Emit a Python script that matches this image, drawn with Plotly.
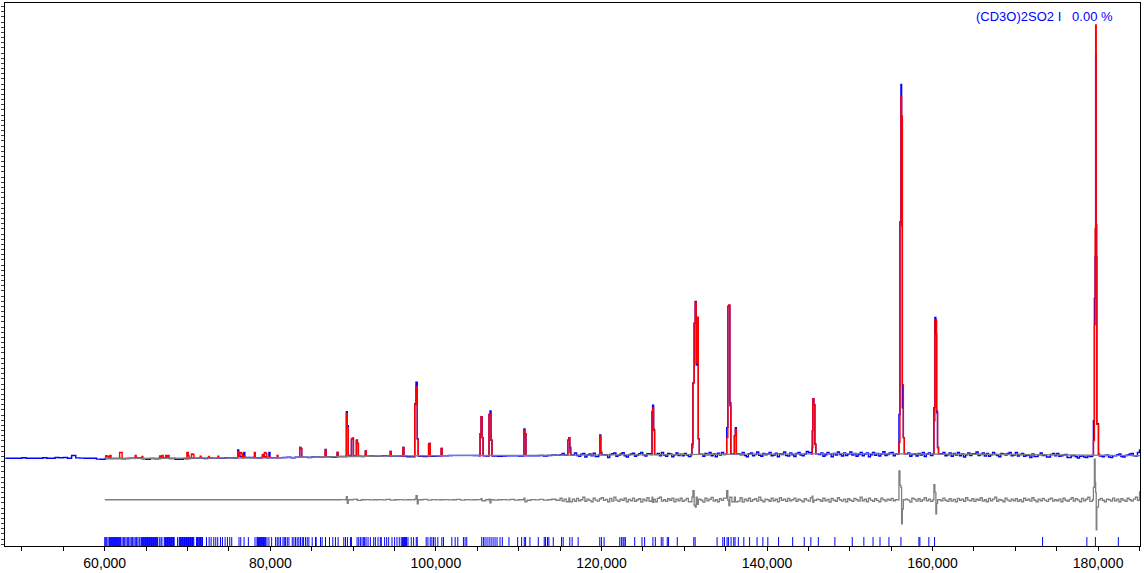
import numpy as np
import plotly.graph_objects as go

# ---------------- data (counts, arbitrary units) ----------------
# observed pattern: baseline sampled every 500 up to 114500, every 250 from 115000
obs_grid_x = list(range(48000, 114501, 500)) + list(range(115000, 185001, 250))
obs_grid_y = [
    92, 92, 92, 92, 97, 92, 92, 92, 92, 97, 92, 92, 100, 97, 100, 92, 120, 96, 94, 92, 92, 92, 84, 82, 90,
    90, 92, 90, 88, 90, 92, 95, 90, 84, 82, 90, 88, 92, 95, 90, 84, 82, 82, 90, 92,
    94, 95, 92, 90, 96, 94, 88, 95, 97, 96, 95, 98, 100, 92, 100, 98, 95, 100, 98, 97,
    92, 100, 100, 102, 96, 103, 104, 105, 100, 106, 106, 104, 108, 108, 102, 110, 110, 108, 110, 112,
    112, 110, 112, 115, 112, 114, 118, 116, 112, 114, 115, 112, 107, 106, 112, 110, 110, 112, 112, 115,
    120, 120, 120, 121, 121, 121, 121, 121, 120, 118, 118, 115, 116, 115, 113,
    115, 118, 118, 118, 115, 118, 112, 118, 118, 120, 115, 120, 125, 122,
    # 115000 .. 184750, step 250
    128, 140, 122, 135, 110, 125, 138, 145, 120, 112, 132, 140, 105, 125, 135, 118, 142, 110, 128, 150,
    140, 118, 125, 100, 130, 138, 145, 112, 122, 135, 148, 118, 105, 128, 135, 142, 112, 125, 138, 150,
    128, 115, 138, 145, 120, 110, 132, 140, 118, 150, 125, 112, 140, 135, 108, 128, 145, 120, 132, 118,
    140, 125, 110, 138, 150, 122, 118, 145, 130, 112, 140, 128, 150, 118, 135, 108, 142, 125, 150, 130,
    125, 140, 118, 135, 130, 145, 112, 128, 150, 120, 108, 138, 145, 118, 130, 155, 122, 112, 140, 128,
    135, 150, 118, 125, 142, 108, 138, 130, 155, 120, 115, 145, 128, 110, 140, 150, 125, 118, 135, 160,
    150, 120, 135, 140, 118, 130, 145, 112, 128, 150, 138, 108, 140, 125, 155, 130, 115, 145, 120, 135,
    155, 125, 140, 112, 130, 150, 118, 135, 145, 108, 128, 150, 122, 140, 115, 135, 158, 120, 130, 145,
    150, 118, 135, 105, 140, 128, 150, 120, 145, 112, 130, 138, 115, 140, 125, 150, 110, 135, 145, 120,
    138, 125, 140, 110, 135, 150, 118, 128, 145, 112, 140, 125, 150, 118, 135, 105, 128, 145, 120, 138,
    138, 155, 120, 130, 145, 115, 140, 112, 128, 150, 130, 120, 108, 140, 135, 125, 140, 150, 118, 125,
    150, 115, 130, 140, 112, 120, 125, 100, 135, 110, 110, 128, 145, 120, 125, 105, 105, 130, 140, 118,
    140, 112, 118, 125, 130, 100, 100, 118, 120, 108, 95, 112, 115, 105, 100, 118, 110, 95, 119, 120,
    118, 112, 108, 120, 125, 105, 100, 118, 118, 128, 135, 110, 105, 120, 125, 135, 140, 118, 115, 150,
    183,
]

# peak regions: x, observed, calculated
peak_x = [
    60050, 60120, 60250, 60360, 60480, 60640, 60760,
    61700, 61800, 61990, 62100,
    63550, 63670, 63800,
    64400, 64490, 64600,
    66500, 66630, 66800, 66930, 67050,
    67250, 67350, 67500, 67650, 67780,
    69800, 69920, 70090, 70200,
    70380, 70480, 70660, 70780,
    71420, 71530, 71640,
    72420, 72530, 72640,
    73560, 73670, 73780,
    75940, 76060, 76180, 76320, 76500, 76620, 76800, 76920,
    77950, 78070, 78190,
    78900, 79030, 79150, 79280, 79460, 79580, 79840, 79960,
    80700, 80820, 80940,
    83430, 83550, 83670, 83790,
    86500, 86630, 86750,
    87950, 88070, 88190,
    89070, 89190, 89300, 89420, 89680, 89800, 89920, 90040, 90280, 90400, 90520, 90640,
    91360, 91480, 91600,
    94370, 94490, 94610,
    95900, 96020, 96140,
    97330, 97450, 97600, 97750, 97870,
    99000, 99120, 99200, 99320,
    100520, 100640, 100760,
    105220, 105340, 105460, 105580, 105700,
    106300, 106420, 106540, 106660, 106780,
    110520, 110640, 110760, 110880,
    115820, 115940, 116060, 116180, 116300,
    119680, 119800, 119920, 120040,
    125990, 126110, 126180, 126300, 126420,
    130810, 130930, 131050, 131200, 131330, 131450, 131570, 131700, 131820,
    135010, 135130, 135270, 135390, 135510, 135630,
    135940, 136060, 136180, 136300,
    145340, 145460, 145540, 145660, 145780, 145900,
    155820, 155940, 156060, 156180, 156260, 156350, 156470, 156590,
    160040, 160160, 160280, 160400, 160490, 160600, 160720,
    179310, 179430, 179550, 179640, 179700, 179770, 179840, 180040, 180160,
]
peak_obs = [
    90, 90, 90, 90, 90, 90, 90,
    90, 90, 90, 88,
    93, 93, 95,
    90, 90, 88,
    90, 90, 92, 92, 95,
    93, 93, 93, 92, 90,
    86, 86, 90, 90,
    92, 92, 92, 94,
    92, 92, 92,
    92, 95, 95,
    92, 92, 92,
    97, 175, 120, 110, 100, 100, 150, 100,
    98, 100, 98,
    100, 100, 100, 110, 100, 98, 150, 98,
    96, 96, 96,
    104, 200, 190, 104,
    108, 180, 108,
    108, 150, 110,
    110, 560, 420, 120, 112, 283, 293, 115, 112, 273, 240, 112,
    112, 167, 112,
    114, 160, 114,
    113, 200, 113,
    108, 640, 857, 290, 112,
    112, 233, 240, 112,
    118, 190, 118,
    118, 340, 510, 300, 118,
    115, 533, 567, 273, 115,
    118, 387, 340, 118,
    125, 273, 300, 200, 125,
    127, 327, 150, 127,
    130, 560, 627, 383, 130,
    130, 235, 850, 1450, 1670, 1030, 1500, 290, 133,
    133, 400, 1620, 1630, 650, 135,
    135, 320, 400, 135,
    136, 370, 690, 630, 233, 136,
    138, 533, 2470, 3850, 3500, 600, 300, 138,
    138, 600, 1507, 1340, 550, 200, 137,
    120, 470, 1700, 2120, 4150, 2117, 440, 133, 115,
]
peak_calc = [
    90, 117, 110, 112, 92, 120, 92,
    92, 150, 150, 90,
    94, 120, 95,
    92, 110, 90,
    92, 115, 100, 120, 95,
    95, 120, 105, 120, 92,
    92, 150, 115, 92,
    94, 135, 130, 95,
    94, 112, 94,
    95, 110, 96,
    96, 112, 96,
    97, 160, 115, 150, 140, 98, 115, 98,
    100, 150, 100,
    100, 130, 110, 150, 140, 100, 110, 98,
    98, 120, 98,
    104, 200, 190, 104,
    108, 178, 108,
    108, 150, 110,
    110, 543, 400, 118, 112, 283, 293, 115, 112, 273, 240, 112,
    112, 167, 112,
    114, 160, 114,
    113, 200, 113,
    110, 633, 810, 283, 112,
    112, 233, 240, 112,
    118, 190, 118,
    118, 340, 510, 300, 118,
    115, 533, 540, 273, 115,
    118, 370, 340, 118,
    125, 273, 300, 150, 125,
    127, 317, 150, 127,
    130, 560, 600, 370, 130,
    130, 200, 850, 1450, 1660, 1050, 1510, 285, 133,
    133, 300, 1615, 1635, 620, 135,
    135, 320, 383, 135,
    136, 200, 690, 633, 233, 136,
    138, 250, 2433, 3733, 3533, 833, 300, 138,
    138, 470, 1483, 1483, 570, 200, 137,
    120, 270, 1433, 2400, 4450, 2441, 433, 133, 115,
]

# background curve
bg_x = [60000, 70000, 80000, 90000, 95000, 110000, 130000, 150000, 170000, 180000, 185058]
bg_y = [90, 93, 97, 110, 117, 122, 133, 138, 130, 118, 118]

# difference curve (offset): every 500 from 88000, every 250 from 115000, + spikes
diff_start = (60000, -325)
diff_grid_x = list(range(88000, 114501, 500)) + list(range(115000, 185001, 250))
diff_grid_y = [
    -325, -324, -326, -325, -322, -328, -325, -323, -327, -325, -324, -326, -322, -328, -325,
    -323, -327, -325, -324, -326, -325, -322, -328, -324, -326, -325, -323, -327, -325, -322,
    -328, -324, -326, -325, -323, -327, -325, -321, -329, -325, -324, -326, -322, -328, -325,
    -320, -330, -324, -326, -321, -329, -325, -320, -330,
    # 115000 .. 184750, step 250
    -310, -338, -320, -345, -305, -330, -318, -340, -312, -335, -325, -300, -340, -318, -332, -345, -310, -328, -338, -315,
    -305, -332, -322, -345, -312, -338, -300, -328, -342, -318, -330, -310, -345, -322, -335, -308, -340, -325, -315, -348,
    -320, -335, -305, -340, -318, -330, -345, -312, -300, -338, -325, -342, -315, -330, -308, -345, -320, -335, -310, -340,
    -328, -312, -345, -318, -335, -305, -340, -322, -330, -348, -310, -335, -320, -302, -338, -325, -345, -315, -332, -308,
    -340, -318, -330, -345, -312, -325, -338, -305, -348, -320, -335, -310, -342, -325, -315, -338, -300, -330, -345, -318,
    -325, -340, -310, -335, -320, -345, -305, -330, -318, -342, -312, -336, -325, -308, -340, -320, -332, -345, -315, -328,
    -338, -305, -330, -345, -318, -325, -340, -310, -335, -322, -348, -312, -330, -340, -305, -325, -338, -318, -345, -315,
    -330, -342, -312, -325, -338, -300, -335, -320, -345, -310, -328, -340, -315, -332, -345, -308, -325, -338, -318, -330,
    -312, -335, -325, -345, -305, -330, -340, -318, -328, -348, -310, -322, -338, -315, -342, -325, -305, -335, -320, -340,
    -325, -310, -345, -320, -335, -308, -330, -342, -315, -338, -322, -345, -312, -330, -318, -340, -305, -328, -335, -315,
    -342, -320, -330, -305, -338, -325, -345, -312, -335, -318, -300, -340, -322, -330, -345, -310, -328, -338, -318, -335,
    -315, -340, -325, -345, -310, -332, -320, -338, -305, -330, -345, -318, -335, -312, -328, -342, -320, -308, -338, -325,
    -335, -318, -345, -310, -330, -340, -322, -305, -338, -315, -328, -345, -312, -335, -320, -300, -342, -325, -330, -315,
    -340, -312, -330, -345, -318, -325, -338, -308, -335, -320, -345, -315, -330, -340, -310, -325, -338, -318, -300, -330,
    -240,
]
diff_spike_x = [
    89070, 89190, 89300, 89420, 90400, 90520,
    97330, 97450, 97600, 97750, 97870,
    105460, 105580, 106420, 106540, 106660, 110640, 110760,
    116060, 116180, 126110, 126180, 126300,
    130930, 131050, 131200, 131330, 131450, 131570, 131700,
    135130, 135270, 135390, 135510, 136060, 136180,
    145460, 145540, 145660,
    155820, 155940, 156060, 156180, 156260, 156350, 156470,
    160040, 160160, 160280, 160400, 160490, 160600,
    179310, 179430, 179550, 179640, 179700, 179770, 179840, 180040,
]
diff_spike_y = [
    -325, -293, -360, -325, -318, -332,
    -325, -318, -283, -367, -325,
    -315, -335, -318, -357, -325, -310, -345,
    -310, -345, -300, -350, -320,
    -300, -233, -380, -400, -300, -370, -320,
    -233, -330, -383, -300, -300, -345,
    -290, -350, -330,
    -325, -35, -180, -200, -567, -420, -325,
    -325, -173, -250, -467, -360, -325,
    -325, -200, 83, -150, -250, -627, -400, -325,
]

# reflection (hkl) tick positions
hkl_pos = [
    60000, 60120, 60240, 60400, 60560, 60640, 60720, 60800, 60880,
    60960, 61040, 61120, 61200, 61280, 61360, 61440, 61520, 61600, 61680, 61760, 61840, 61920,
    62090, 62250, 62410, 62570, 62730, 62890, 63050, 63210, 63370, 63530, 63690, 63850, 64010, 64180,
    64380, 64460, 64540, 64620, 64700, 64780, 64860, 64940, 65020, 65100, 65180, 65260, 65340,
    65420, 65500, 65580, 65660, 65740, 65820, 65900, 65980, 66060, 66140, 66220, 66300, 66380,
    66590, 66790, 66910,
    67190, 67270, 67350, 67430, 67510, 67590, 67670, 67750, 67830, 67910, 67990, 68070, 68150,
    68230, 68310, 68390, 68800,
    69000, 69080, 69160, 69240, 69320, 69400, 69480, 69560, 69640, 69720, 69800, 69880, 69960,
    70040, 70120, 70200, 70280, 70360, 70440, 70520, 70600, 70680, 70760, 71080,
    71200, 71290, 71380, 71470, 71560, 71650, 71740, 71810,
    72290, 72610, 72850, 73170, 73410, 73650, 73980, 74220, 74540, 74820, 75100, 75340,
    76220, 76430, 76830, 77350, 78150,
    78390, 78470, 78550, 78630, 78710, 78790, 78870, 78950, 79030, 79110, 79190, 79270, 79350, 79440,
    79600, 79840, 80160, 80640, 80840, 81040, 81240, 81530, 81690, 81850, 82050, 82250, 82650,
    82850, 83050, 83250, 83450, 83650, 83860, 84020, 84260, 84460, 84660, 85060, 85460, 85540,
    86060, 86260, 86670, 87150, 87550, 87870, 88190, 88880, 89080, 89320, 89680, 89800, 90480,
    90680, 90880, 91080, 91280, 91400, 91570, 91810, 92090, 92490, 92690, 93010, 93290, 93410,
    93810, 94060, 94300, 94700, 95020, 95300, 95580, 95820, 95980, 96060, 96140, 96220, 96300,
    96380, 96460, 96630, 97030, 97310, 97630, 97750, 98830, 99040, 99320, 99520, 99720, 99920,
    100240, 100720, 100920, 101930, 102330, 102650, 103330, 103530, 103730, 105540, 105740,
    105940, 106180, 106430, 106670, 106910, 107150, 107390, 107750, 108030, 108830, 109880,
    110360, 110680, 110840, 111360, 112370, 113090, 113250, 113490, 113650, 114180, 115180,
    115380, 116180, 116460, 117190, 119800, 120000, 120320, 122210, 122410, 122610, 122730,
    122890, 124020, 124900, 125220, 126220, 126510, 127230, 127430, 127950, 128110, 129160,
    131160, 131320, 133970, 134660, 134860, 135180, 135340, 135660, 135980, 136140, 136540,
    137200, 137900, 138800, 139500, 140100, 141400, 143100, 144500, 145300, 146200, 148200,
    150300, 151700, 152810, 153650, 154730, 156180, 158350, 158470, 159550, 160240, 173290,
    178640, 179670, 182440,
]
hkl_top, hkl_bottom = -700, -790

x_range = [47952, 185058]
y_range = [-790, 4670]


def merge(gx, gy, px, py, gap):
    parr = np.array(px)
    xs, ys = [], []
    for x, y in zip(gx, gy):
        if np.min(np.abs(parr - x)) >= gap:
            xs.append(x)
            ys.append(y)
    xs += list(px)
    ys += list(py)
    order = np.argsort(xs, kind="stable")
    return [xs[i] for i in order], [ys[i] for i in order]


obs_x, obs_y = merge(obs_grid_x, obs_grid_y, peak_x, peak_obs, 250)

# calculated curve: drawn per peak cluster (between clusters it lies on the background)
calc_x, calc_y = [], []
prev = None
for x, y in zip(peak_x, peak_calc):
    if prev is not None and x - prev > 300:
        calc_x.append(None)
        calc_y.append(None)
    calc_x.append(x)
    calc_y.append(y)
    prev = x

dx, dy = merge(diff_grid_x, diff_grid_y, diff_spike_x, diff_spike_y, 200)
dx = [diff_start[0]] + dx
dy = [diff_start[1]] + dy

tx, ty = [], []
for t in hkl_pos:
    tx += [t, t, None]
    ty += [hkl_top, hkl_bottom, None]

BLUE, RED, GREY = "#0000FF", "#FF0000", "#808080"

fig = go.Figure()
fig.add_trace(go.Scatter(x=obs_x, y=obs_y, mode="lines", line=dict(color=BLUE, width=1.4, shape="hv"), hoverinfo="skip"))
fig.add_trace(go.Scatter(x=calc_x, y=calc_y, mode="lines", connectgaps=False,
                         line=dict(color=RED, width=1.4, shape="hv"), hoverinfo="skip"))
fig.add_trace(go.Scatter(x=bg_x, y=bg_y, mode="lines", line=dict(color=GREY, width=1.3), hoverinfo="skip"))
fig.add_trace(go.Scatter(x=dx, y=dy, mode="lines", line=dict(color=GREY, width=1.3, shape="hv"), hoverinfo="skip"))
fig.add_trace(go.Scatter(x=tx, y=ty, mode="lines", line=dict(color=BLUE, width=1), hoverinfo="skip"))

fig.add_annotation(
    text="(CD3O)2SO2 I\u00a0\u00a0 0.00 %", xref="paper", yref="paper",
    x=0.978, y=0.976, xanchor="right", yanchor="middle", showarrow=False,
    font=dict(family="Liberation Sans, Arial, sans-serif", size=13, color=BLUE),
)

fig.update_layout(
    width=1144, height=573,
    margin=dict(l=2, r=4, t=3, b=24, pad=0),
    paper_bgcolor="white", plot_bgcolor="white",
    showlegend=False,
    font=dict(family="Liberation Sans, Arial, sans-serif", size=14, color="black"),
)
fig.update_xaxes(
    range=x_range, showgrid=False, zeroline=False,
    showline=True, mirror=True, linecolor="black", linewidth=1,
    ticks="outside", ticklen=4, tickcolor="black", tickwidth=1,
    tick0=0, dtick=20000, tickformat=",d",
    minor=dict(dtick=5000, ticks="outside", ticklen=4, tickcolor="black", showgrid=False),
    tickfont=dict(size=14, color="black"),
)
fig.update_yaxes(
    range=y_range, showgrid=False, zeroline=False,
    showline=True, mirror=True, linecolor="black", linewidth=1,
    ticks="outside", ticklen=3, tickcolor="#404040", tickwidth=1,
    tick0=4583, dtick=52, showticklabels=False,
)

fig.write_html(
    "out.html",
    config={"displayModeBar": False},
    post_script="document.body.style.margin='0';document.body.style.padding='0';document.body.style.overflow='hidden';",
)
